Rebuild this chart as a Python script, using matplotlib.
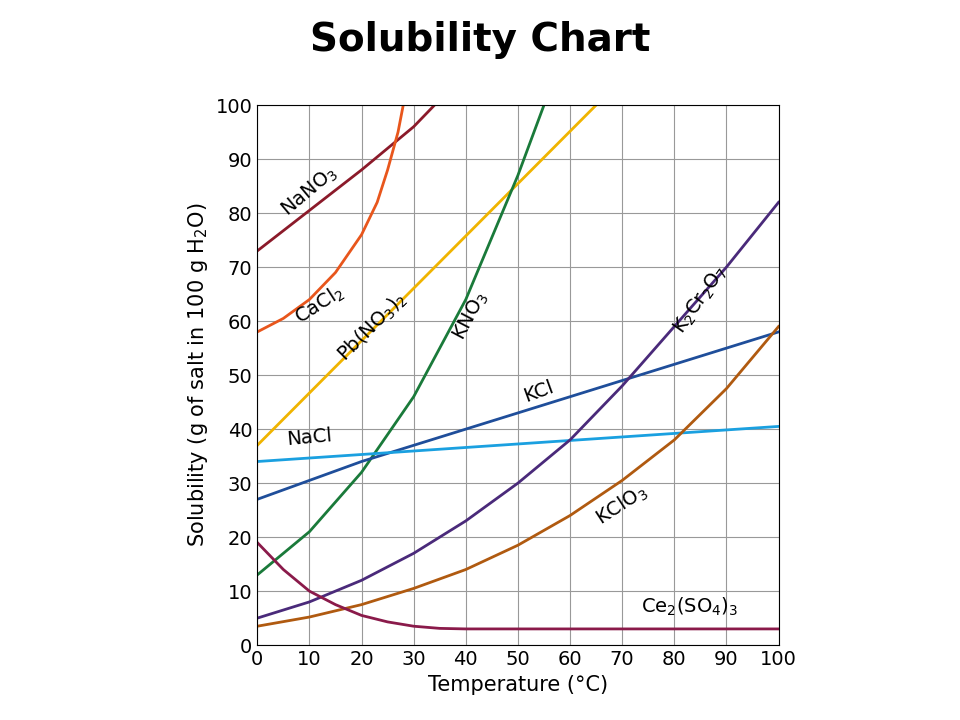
import matplotlib
matplotlib.use("Agg")
import matplotlib.pyplot as plt

temps_nano3 = [0, 10, 20, 30, 34]; sol_nano3 = [73, 80.5, 88, 96, 100]
temps_cacl2 = [0, 5, 10, 15, 20, 23, 25, 27, 28]; sol_cacl2 = [58, 60.5, 64, 69, 76, 82, 88, 95, 100]
temps_pb = [0, 65]; sol_pb = [37, 100]
temps_kno3 = [0, 10, 20, 30, 40, 50, 55]; sol_kno3 = [13, 21, 32, 46, 64, 87, 100]
temps_kcl = [0, 20, 40, 60, 80, 100]; sol_kcl = [27, 34, 40, 46, 52, 58]
temps_nacl = [0, 100]; sol_nacl = [34, 40.5]
temps_k2 = [0, 10, 20, 30, 40, 50, 60, 70, 80, 90, 100]; sol_k2 = [5, 8, 12, 17, 23, 30, 38, 48, 59, 70, 82]
temps_kclo3 = [0, 10, 20, 30, 40, 50, 60, 70, 80, 90, 100]; sol_kclo3 = [3.5, 5.2, 7.5, 10.5, 14, 18.5, 24, 30.5, 38, 47.5, 59]
temps_ce = [0, 5, 10, 15, 20, 25, 30, 35, 40, 100]; sol_ce = [19, 14, 10, 7.5, 5.5, 4.3, 3.5, 3.1, 3, 3]

series = [
    (temps_nano3, sol_nano3, "#8b1a2a", "NaNO$_3$", 10, 84, 40),
    (temps_cacl2, sol_cacl2, "#e8561c", "CaCl$_2$", 12, 63, 33),
    (temps_pb, sol_pb, "#f0b400", "Pb(NO$_3$)$_2$", 22, 59, 45),
    (temps_kno3, sol_kno3, "#1a7a3a", "KNO$_3$", 41, 61, 62),
    (temps_kcl, sol_kcl, "#1f4e9a", "KCl", 54, 47, 20),
    (temps_nacl, sol_nacl, "#1aa0e0", "NaCl", 10, 38.5, 5),
    (temps_k2, sol_k2, "#4a2a7a", "K$_2$Cr$_2$O$_7$", 85, 64, 55),
    (temps_kclo3, sol_kclo3, "#b05a10", "KClO$_3$", 70, 26, 33),
    (temps_ce, sol_ce, "#8a1a4a", "Ce$_2$(SO$_4$)$_3$", 83, 7, 0),
]

fig = plt.figure(figsize=(9.6, 7.2), dpi=100)
ax = fig.add_axes([0.268, 0.104, 0.543, 0.75])
for x, y, c, name, lx, ly, rot in series:
    ax.plot(x, y, color=c, lw=2)
    ax.text(lx, ly, name, rotation=rot, fontsize=14, ha="center", va="center")
ax.set_xlim(0, 100); ax.set_ylim(0, 100)
ax.set_xticks(range(0, 101, 10)); ax.set_yticks(range(0, 101, 10))
ax.grid(True, color="#999999", lw=0.8)
ax.tick_params(labelsize=14, length=0)
ax.set_xlabel("Temperature (°C)", fontsize=15)
ax.set_ylabel("Solubility (g of salt in 100 g H$_2$O)", fontsize=15)
fig.text(0.5, 0.945, "Solubility Chart", ha="center", va="center", fontsize=28, fontweight="bold")
fig.savefig("out.png", dpi=100)
